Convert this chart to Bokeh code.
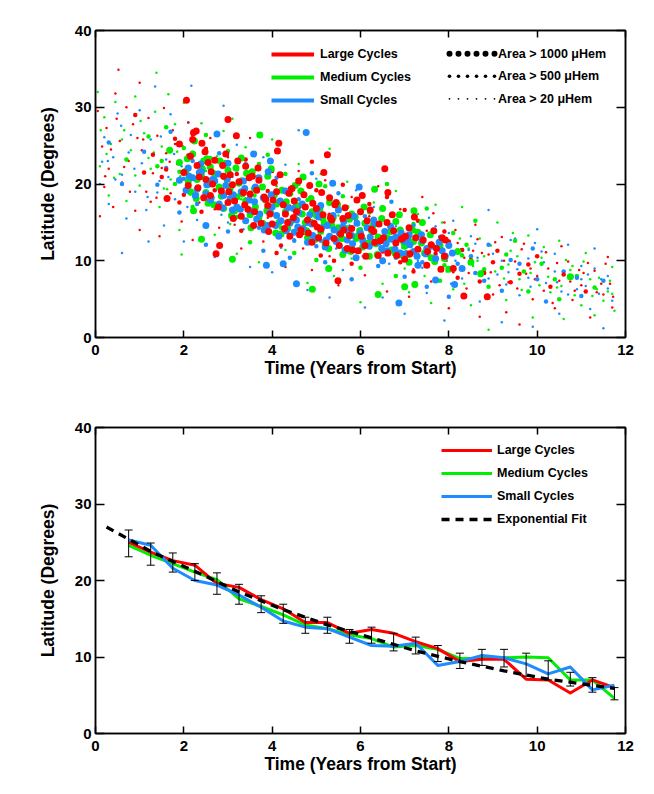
from bokeh.plotting import figure
from bokeh.models import (Range1d, LinearAxis, FixedTicker, Legend, LegendItem,
                          Label, Whisker, TeeHead, ColumnDataSource)
from bokeh.layouts import column
from bokeh.embed import file_html
from bokeh.resources import INLINE

# ------------------------------------------------------------------
# Top panel: individual sunspot groups (time in years, latitude in deg)
# size classes: large = area > 1000 uHem, medium = > 500, small = > 20
# ------------------------------------------------------------------
red_large_t = [2.28, 2.41, 2.2, 3.0, 3.19, 4.15, 4.12, 5.25, 5.17, 6.55, 6.62, 6.04, 1.62, 2.73, 2.81,
               5.49, 8.34, 8.87, 7.82, 7.66, 7.85, 2.0, 2.1, 2.3, 2.5, 2.6, 2.7, 2.9, 3.0, 3.1,
               3.3, 3.4, 3.5, 3.6, 3.7, 3.9, 4.0, 4.1, 4.3, 4.4, 4.5, 4.6, 4.8, 4.9, 5.0,
               5.1, 5.3, 5.4, 5.6, 5.7, 5.8, 6.0, 6.1, 6.3, 6.4, 6.6, 6.8, 7.0, 7.1, 7.3,
               7.5, 7.6, 7.9, 8.1, 2.06, 1.9, 2.22,
               2.15, 2.35, 2.45, 2.55, 2.65, 2.85, 2.95, 3.05, 3.15, 3.25,
               3.35, 3.45, 3.55, 3.65, 3.75, 3.85, 3.95, 4.05, 4.25, 4.35,
               4.45, 4.55, 4.65, 4.75, 4.85, 4.95, 5.05, 5.15, 5.35, 5.45,
               5.55, 5.65, 5.75, 5.95, 6.15, 6.25, 6.45, 6.75, 6.95, 7.25,
               2.32, 2.48, 2.62, 2.78, 2.88, 3.02, 3.12, 3.22, 3.38, 3.48,
               3.58, 3.68, 3.82, 3.92, 4.02, 4.18, 4.28, 4.38, 4.48, 4.62,
               4.72, 4.82, 4.92, 5.02, 5.12, 5.22, 5.32, 5.42, 5.52, 5.62,
               5.72, 5.82, 5.92, 6.02, 6.12, 6.22, 6.32, 6.42, 6.52, 6.62,
               6.72, 6.82, 6.92, 7.02, 7.12, 7.22, 7.42, 7.52, 7.72, 7.92]
red_large_lat = [26.9, 25.3, 25.8, 28.4, 26.3, 25.3, 24.3, 23.8, 21.5, 22.0, 18.9, 18.5, 18.1, 10.9, 12.0,
                 7.4, 5.4, 5.3, 8.9, 13.9, 13.0, 21.5, 19.8, 22.4, 20.6, 18.5, 23.1, 21.0, 17.6, 19.9,
                 15.8, 22.3, 18.7, 16.4, 20.5, 17.2, 14.8, 19.0, 16.1, 13.2, 17.8, 20.4, 15.3, 12.4, 16.8,
                 14.1, 18.2, 12.9, 15.5, 11.6, 14.2, 16.4, 12.0, 13.8, 10.7, 15.0, 12.3, 10.2, 14.3, 11.5,
                 9.4, 12.1, 10.6, 9.0, 30.9, 25.2, 26.7,
                 23.6, 20.9, 18.2, 22.8, 20.0, 19.1, 23.9, 21.2, 17.8, 20.3,
                 18.9, 16.7, 21.0, 19.2, 14.9, 18.0, 16.1, 20.2, 17.3, 15.0,
                 19.4, 16.4, 14.0, 17.0, 19.8, 14.9, 13.0, 16.0, 15.3, 17.6,
                 13.5, 16.9, 13.3, 11.3, 15.2, 14.1, 12.6, 13.9, 12.9, 13.0,
                 19.5, 24.2, 21.6, 17.0, 22.4, 19.0, 15.5, 23.0, 17.3, 20.8,
                 14.6, 22.1, 18.3, 13.8, 17.9, 21.2, 14.2, 18.8, 15.6, 13.4,
                 18.6, 13.6, 17.5, 14.4, 18.9, 12.3, 15.6, 17.3, 12.0, 14.0,
                 15.9, 11.4, 17.9, 13.2, 10.6, 16.6, 12.4, 14.8, 13.0, 11.0,
                 16.0, 10.7, 12.8, 13.2, 10.9, 15.7, 12.7, 11.2, 11.6, 12.7]
red_medium_t = [1.3, 1.5, 1.8, 1.9, 2.1, 2.4, 2.5, 2.7, 2.9, 3.2, 3.3, 3.6, 3.8, 4.0, 4.2, 4.4, 4.7, 4.9, 5.1, 5.3,
                5.6, 5.8, 6.0, 6.2, 6.5, 6.7, 7.0, 7.2, 7.4, 7.7, 8.0, 8.2, 8.5, 8.8, 9.1, 9.4, 9.8, 10.3, 0.9, 1.1,
                1.6, 2.0, 2.2, 2.6, 3.1, 3.4, 3.9, 4.1, 4.6, 5.0, 5.4, 5.9, 6.3, 6.6, 6.9, 7.3, 7.6, 7.9, 8.3, 8.7,
                9.0, 9.6, 10.0, 10.6, 11.1]
red_medium_lat = [23.8, 20.9, 25.9, 17.6, 23.7, 16.4, 24.6, 19.2, 25.0, 21.3, 13.9, 24.0, 15.0, 21.7, 12.0, 19.4, 13.6, 22.9, 10.7, 16.0,
                  19.9, 9.6, 14.0, 17.4, 11.2, 13.7, 16.6, 8.6, 12.9, 10.9, 12.5, 7.8, 10.1, 8.4, 11.3, 7.2, 9.5, 6.6, 29.0, 21.5,
                  21.9, 18.6, 26.5, 21.7, 18.0, 23.2, 19.1, 11.0, 16.9, 19.2, 10.0, 15.3, 12.2, 18.3, 9.8, 15.2, 10.3, 13.8, 11.4, 7.3,
                  9.8, 8.3, 10.6, 8.2, 6.0]
red_small_t = [0.1, 0.15, 0.2, 0.25, 0.3, 0.4, 0.45, 0.52, 0.55, 0.6,
               0.7, 0.75, 0.85, 0.9, 1.0, 1.05, 1.15, 1.2, 1.3, 1.4,
               1.45, 1.55, 1.6, 1.7, 1.75, 1.85, 1.95, 2.1, 2.2, 2.35,
               2.6, 2.8, 3.0, 3.3, 3.5, 3.8, 4.0, 4.3, 4.6, 4.9,
               5.2, 5.5, 5.8, 6.1, 6.4, 6.6, 6.9, 7.1, 7.4, 7.6,
               7.9, 8.0, 8.2, 8.4, 8.6, 8.7, 8.9, 9.0, 9.2, 9.3,
               9.5, 9.6, 9.7, 9.9, 10.0, 10.2, 10.4, 10.5, 10.7, 10.8,
               11.0, 11.2, 11.3, 11.5, 11.6, 11.7, 1.0, 0.05,
               0.35, 0.65, 0.95, 1.25, 1.5, 1.8, 2.05, 2.45, 2.7, 2.95,
               3.15, 3.4, 3.65, 3.9, 4.15, 4.4, 4.7, 4.95, 5.3, 5.6,
               5.9, 6.2, 6.5, 6.8, 7.2, 7.5, 7.8, 8.1, 8.35, 8.65,
               8.95, 9.25, 9.55, 9.85, 10.15, 10.45, 10.75, 11.05, 11.35, 11.65,
               0.22, 0.48, 0.78, 1.08, 1.38, 1.68, 1.98, 7.05, 7.35, 7.65,
               7.95, 8.15, 8.45, 8.75, 9.05, 9.35, 9.65, 9.95, 10.25, 10.55,
               10.85, 11.15, 11.45, 11.72, 8.55, 9.15, 9.75, 10.35, 10.95, 11.55]
red_small_lat = [15.8, 24.9, 19.6, 27.3, 22.0, 17.0, 31.8, 34.9, 25.6, 20.2,
                 30.0, 23.0, 27.8, 16.5, 33.2, 24.4, 19.0, 28.6, 21.4, 26.3,
                 13.2, 29.9, 24.0, 18.8, 27.0, 22.6, 15.1, 28.0, 12.7, 17.6,
                 26.0, 14.3, 23.5, 11.6, 26.0, 12.5, 23.0, 9.2, 21.7, 8.8,
                 20.5, 6.8, 18.3, 8.1, 19.7, 6.0, 16.7, 5.3, 18.3, 7.3,
                 15.0, 3.8, 12.3, 6.4, 14.7, 2.7, 10.8, 5.6, 13.1, 3.3,
                 9.9, 1.7, 12.2, 5.0, 8.0, 11.1, 3.8, 7.4, 9.9, 4.9,
                 6.8, 2.6, 8.7, 5.6, 10.5, 3.9, 14.0, 29.5,
                 24.5, 22.2, 26.0, 17.7, 22.1, 25.2, 19.2, 23.0, 16.7, 20.2,
                 14.7, 18.1, 21.0, 15.6, 13.4, 17.2, 11.6, 15.9, 10.6, 13.8,
                 11.1, 15.8, 9.7, 12.8, 8.9, 13.9, 11.5, 8.5, 10.4, 12.8,
                 8.5, 10.0, 6.4, 9.0, 6.1, 9.7, 7.3, 8.4, 5.9, 7.0,
                 21.0, 28.5, 19.0, 25.8, 18.2, 22.9, 24.9, 11.2, 9.4, 16.2,
                 10.0, 14.0, 8.4, 11.0, 12.4, 7.2, 11.5, 7.6, 9.0, 11.9,
                 6.1, 9.7, 7.0, 5.3, 11.3, 6.8, 8.3, 4.5, 8.8, 9.6]

green_large_t = [3.72, 5.06, 6.32, 7.21, 5.28, 7.0, 8.72, 10.75, 4.91, 7.23, 6.4,
                 1.9, 2.1, 2.2, 2.4, 2.5, 2.6, 2.8, 2.9, 3.0,
                 3.2, 3.3, 3.5, 3.6, 3.8, 3.9, 4.1, 4.2, 4.4, 4.5,
                 4.7, 4.8, 5.0, 5.2, 5.3, 5.5, 5.6, 5.8, 5.9, 6.1,
                 6.2, 6.4, 6.5, 6.7, 6.9, 7.1, 7.2, 7.4, 7.6, 7.8,
                 8.0, 8.2, 8.5, 3.1, 2.4, 2.52, 2.24, 2.22, 1.68,
                 2.05, 2.15, 2.3, 2.45, 2.55, 2.7, 2.85, 2.95, 3.05, 3.15,
                 3.25, 3.4, 3.55, 3.7, 3.85, 3.95, 4.05, 4.15, 4.3, 4.35,
                 4.55, 4.65, 4.75, 4.9, 5.1, 5.15, 5.35, 5.45, 5.65, 5.75,
                 5.95, 6.05, 6.25, 6.35, 6.6, 6.8, 7.0, 7.3, 7.45, 7.9,
                 2.08, 2.28, 2.42, 2.58, 2.68, 2.82, 2.98, 3.08, 3.18, 3.32,
                 3.42, 3.52, 3.62, 3.78, 3.88, 3.98, 4.08, 4.22, 4.32, 4.42,
                 4.52, 4.68, 4.78, 4.88, 4.98, 5.08, 5.18, 5.28, 5.38, 5.48,
                 5.58, 5.68, 5.78, 5.88, 5.98, 6.08, 6.18, 6.28, 6.38, 6.48,
                 6.58, 6.68, 6.78, 6.88, 6.98, 7.08, 7.18, 7.38, 7.58, 7.68]
green_large_lat = [26.4, 20.0, 19.3, 16.5, 9.0, 6.6, 8.3, 7.9, 6.3, 6.9, 5.6,
                   22.8, 20.3, 23.9, 21.0, 18.9, 22.2, 19.6, 16.8, 21.8,
                   18.3, 23.4, 16.0, 19.4, 14.8, 21.0, 17.4, 13.5, 18.8, 15.6,
                   20.9, 13.0, 15.9, 12.2, 17.6, 14.3, 10.8, 16.1, 12.9, 14.9,
                   10.6, 13.1, 16.8, 11.4, 14.0, 9.8, 12.5, 15.0, 10.4, 12.0,
                   8.9, 11.2, 9.8, 10.2, 12.8, 23.3, 25.6, 16.5, 24.4,
                   21.7, 19.0, 20.6, 23.0, 17.5, 21.3, 18.4, 22.7, 19.4, 16.5,
                   20.1, 17.8, 21.6, 15.6, 17.9, 16.2, 18.6, 15.0, 16.4, 14.2,
                   17.2, 19.1, 15.0, 16.4, 13.8, 15.5, 14.6, 12.7, 14.0, 15.4,
                   13.3, 11.8, 13.9, 12.2, 13.0, 15.1, 11.9, 13.7, 11.0, 10.3,
                   23.3, 18.1, 22.0, 20.0, 17.3, 23.0, 20.6, 15.9, 22.1, 18.7,
                   21.4, 14.3, 17.0, 19.6, 16.5, 22.0, 13.6, 19.2, 17.7, 15.1,
                   19.8, 16.1, 13.9, 18.1, 12.8, 16.6, 14.9, 11.6, 15.6, 17.3,
                   12.9, 14.2, 11.2, 15.7, 13.9, 17.0, 12.3, 14.6, 10.8, 15.5,
                   12.6, 13.8, 11.0, 16.0, 12.4, 10.8, 14.0, 12.3, 13.4, 9.9]
green_medium_t = [1.2, 1.4, 1.6, 1.8, 2.0, 2.3, 2.5, 2.8, 3.0, 3.3, 3.5, 3.7, 4.0, 4.3, 4.5, 4.8, 5.0, 5.2, 5.5, 5.7,
                  6.0, 6.3, 6.6, 6.8, 7.0, 7.3, 7.5, 7.8, 8.1, 8.3, 8.6, 8.9, 9.2, 9.5, 9.8, 10.1, 10.5, 10.9, 11.3, 0.7,
                  1.5, 1.9, 2.2, 2.6, 2.9, 3.2, 3.6, 3.9, 4.2, 4.6, 4.9, 5.3, 5.6, 5.9, 6.2, 6.5, 6.9, 7.2, 7.6, 7.9,
                  8.4, 8.8, 9.3, 9.7, 10.4]
green_medium_lat = [26.2, 22.3, 27.4, 20.0, 24.7, 18.6, 26.4, 17.2, 24.3, 20.6, 12.4, 22.6, 16.3, 21.3, 11.0, 17.9, 10.1, 19.7, 12.0, 17.0,
                    9.1, 14.7, 20.0, 8.0, 13.3, 10.6, 16.8, 7.4, 13.6, 10.7, 15.2, 6.6, 9.1, 12.6, 6.0, 9.6, 5.0, 8.0, 6.5, 23.2,
                    23.0, 21.6, 17.0, 23.4, 20.8, 15.7, 18.5, 23.8, 14.3, 20.0, 12.5, 15.1, 18.4, 11.4, 16.3, 12.6, 10.6, 14.8, 12.2, 9.4,
                    12.1, 8.9, 10.8, 8.6, 7.6]
green_small_t = [0.05, 0.1, 0.2, 0.3, 0.35, 0.45, 0.55, 0.65, 0.7, 0.8,
                 0.9, 1.0, 1.1, 1.38, 1.25, 1.35, 1.45, 1.5, 1.65, 1.7,
                 1.8, 1.9, 2.0, 2.2, 2.4, 2.7, 2.9, 3.2, 3.4, 3.7,
                 4.0, 4.3, 4.6, 4.8, 5.1, 5.4, 5.7, 6.0, 6.3, 6.5,
                 6.8, 7.1, 7.3, 7.6, 7.9, 8.1, 8.3, 8.5, 8.7, 8.9,
                 9.1, 9.3, 9.4, 9.6, 9.8, 9.9, 10.1, 10.3, 10.5, 10.6,
                 10.8, 11.0, 11.1, 11.3, 11.4, 11.6, 11.7, 11.75, 1.95, 3.1,
                 5.3, 7.7,
                 0.25, 0.6, 0.9, 1.2, 1.55, 1.85, 2.15, 2.5, 2.75, 3.05,
                 3.3, 3.55, 3.85, 4.1, 4.4, 4.65, 4.9, 5.2, 5.5, 5.8,
                 6.1, 6.4, 6.7, 7.0, 7.35, 7.65, 7.95, 8.25, 8.55, 8.8,
                 9.05, 9.35, 9.65, 9.95, 10.25, 10.55, 10.85, 11.2, 11.5, 11.7,
                 0.12, 0.42, 0.72, 1.02, 1.32, 1.62, 1.92, 7.15, 7.45, 7.75,
                 8.05, 8.35, 8.65, 8.95, 9.25, 9.55, 9.85, 10.15, 10.45, 10.75,
                 11.05, 11.35, 11.65, 7.25, 7.85, 8.45, 9.45, 10.05, 10.65, 11.25]
green_small_lat = [32.0, 22.3, 28.7, 18.5, 25.2, 30.7, 21.3, 27.0, 17.8, 24.4,
                   31.4, 19.8, 26.6, 34.5, 22.0, 29.4, 17.0, 24.9, 31.7, 20.6,
                   27.8, 14.0, 30.6, 16.5, 27.9, 13.4, 26.9, 10.9, 24.8, 9.8,
                   25.8, 11.4, 22.6, 7.1, 21.3, 8.0, 20.3, 4.6, 17.6, 7.0,
                   19.1, 5.9, 16.1, 4.5, 13.9, 6.3, 17.0, 4.2, 12.9, 1.0,
                   15.0, 4.9, 11.3, 7.6, 13.3, 2.6, 10.4, 5.9, 12.6, 2.4,
                   9.3, 4.2, 11.0, 2.9, 7.8, 6.0, 9.2, 3.5, 10.8, 28.5,
                   24.6, 17.3,
                   23.9, 25.8, 21.1, 23.4, 19.4, 24.2, 18.6, 21.7, 23.6, 14.8,
                   18.0, 21.5, 16.9, 19.7, 14.1, 17.0, 15.3, 12.9, 15.9, 10.3,
                   12.9, 11.0, 14.3, 9.0, 12.7, 10.0, 8.6, 12.9, 9.3, 10.6,
                   8.6, 9.5, 6.2, 9.8, 7.9, 6.7, 5.5, 7.6, 4.8, 5.7,
                   27.0, 20.8, 23.2, 28.2, 24.1, 19.3, 21.0, 13.2, 8.0, 12.4,
                   10.8, 7.0, 10.0, 12.0, 7.7, 10.6, 8.4, 11.8, 6.5, 8.8,
                   9.9, 6.3, 7.4, 7.2, 15.0, 11.6, 13.6, 6.8, 10.1, 5.4]

blue_large_t = [4.77, 2.75, 3.58, 3.96, 3.91, 4.25, 4.55, 3.87, 5.37, 5.97, 6.87, 7.7, 8.13,
                1.9, 2.1, 2.3, 2.4, 2.6, 2.7, 2.9, 3.0, 3.1, 3.3,
                3.4, 3.6, 3.7, 3.9, 4.0, 4.2, 4.3, 4.5, 4.6, 4.8,
                4.9, 5.1, 5.2, 5.4, 5.5, 5.7, 5.9, 6.0, 6.2, 6.3,
                6.5, 6.7, 6.9, 7.1, 7.3, 7.5, 7.7, 8.0, 8.3, 2.5,
                2.05, 2.2, 2.35, 2.5, 2.65, 2.8, 2.95, 3.05, 3.2, 3.35,
                3.5, 3.65, 3.8, 3.95, 4.1, 4.15, 4.35, 4.4, 4.55, 4.7,
                4.85, 5.0, 5.05, 5.25, 5.3, 5.45, 5.6, 5.65, 5.8, 5.85,
                6.05, 6.15, 6.4, 6.55, 6.6, 6.8, 7.0, 7.2, 7.4, 7.85,
                2.12, 2.26, 2.38, 2.52, 2.62, 2.78, 2.88, 2.98, 3.12, 3.28,
                3.38, 3.48, 3.62, 3.72, 3.82, 3.98, 4.08, 4.18, 4.32, 4.48,
                4.58, 4.68, 4.82, 4.92, 5.02, 5.12, 5.22, 5.38, 5.52, 5.62,
                5.72, 5.82, 5.92, 6.08, 6.22, 6.32, 6.48, 6.58, 6.68, 6.78,
                6.92, 7.02, 7.12, 7.28, 7.38, 7.48, 7.62, 7.78, 7.92, 8.08]
blue_large_lat = [26.7, 26.5, 23.9, 23.0, 21.6, 9.6, 7.0, 9.4, 20.1, 19.6, 4.5, 7.5, 6.9,
                  20.5, 22.1, 19.3, 21.6, 17.9, 20.4, 18.5, 22.7, 16.6, 19.0,
                  15.2, 17.7, 20.8, 14.6, 17.0, 15.2, 19.1, 13.7, 16.3, 12.4,
                  14.8, 17.2, 11.8, 14.0, 16.6, 12.7, 10.4, 13.6, 11.9, 15.3,
                  10.0, 12.8, 11.0, 13.4, 9.4, 11.6, 10.3, 12.0, 9.0, 14.6,
                  19.2, 20.8, 21.5, 18.7, 20.6, 17.4, 19.8, 18.1, 17.0, 20.4,
                  16.5, 15.4, 18.2, 16.3, 15.9, 13.2, 16.9, 14.9, 15.3, 14.2,
                  16.0, 13.0, 15.7, 14.6, 13.2, 12.5, 14.4, 11.4, 13.3, 15.8,
                  12.6, 14.3, 12.4, 13.8, 11.3, 13.1, 12.5, 11.2, 12.6, 11.3,
                  21.0, 18.5, 22.6, 19.9, 18.2, 21.3, 16.9, 20.7, 18.6, 16.7,
                  19.4, 17.9, 19.6, 16.1, 14.0, 18.6, 14.6, 17.8, 13.9, 16.8,
                  14.4, 17.4, 15.0, 13.3, 16.5, 14.3, 12.7, 15.9, 13.6, 15.1,
                  13.9, 12.2, 14.9, 12.0, 13.1, 14.9, 11.6, 12.2, 14.5, 11.5,
                  13.6, 10.9, 12.1, 10.6, 13.4, 10.9, 11.9, 12.4, 10.6, 11.0]
blue_medium_t = [1.1, 1.4, 1.7, 1.9, 2.2, 2.5, 2.8, 3.0, 3.2, 3.5, 3.8, 4.1, 4.4, 4.6, 4.9, 5.2, 5.5, 5.8, 6.1, 6.4,
                 6.7, 7.0, 7.2, 7.5, 7.8, 8.0, 8.3, 8.6, 8.9, 9.2, 9.6, 9.9, 10.2, 10.6, 11.0, 11.5, 0.6, 0.3, 5.0, 6.6,
                 1.6, 2.0, 2.3, 2.7, 3.1, 3.4, 3.7, 4.2, 4.5, 4.8, 5.1, 5.4, 5.7, 6.0, 6.3, 6.8, 7.1, 7.4, 7.7, 8.2,
                 8.5, 8.8, 9.4, 10.0, 10.9]
blue_medium_lat = [24.2, 19.9, 26.8, 16.3, 23.0, 12.1, 24.0, 13.8, 21.9, 18.2, 11.3, 20.8, 10.4, 18.0, 21.4, 9.8, 18.8, 7.6, 15.8, 9.3,
                   17.7, 7.9, 14.6, 6.6, 13.1, 5.3, 11.4, 8.4, 12.1, 6.1, 9.6, 11.6, 4.7, 8.6, 5.4, 7.4, 20.0, 25.4, 11.9, 11.3,
                   22.1, 20.7, 17.4, 20.8, 16.0, 22.6, 14.3, 17.6, 12.6, 15.4, 12.6, 15.6, 11.2, 14.1, 12.2, 10.4, 12.8, 9.8, 11.8, 9.6,
                   10.6, 7.4, 10.1, 7.6, 7.8]
blue_small_t = [0.1, 0.2, 0.3, 0.4, 0.5, 0.6, 0.7, 0.8, 0.9, 1.0,
                1.05, 1.15, 1.25, 1.35, 1.45, 1.55, 1.6, 1.7, 1.8, 1.9,
                2.0, 2.1, 2.3, 2.17, 2.7, 3.0, 3.2, 3.5, 3.8, 4.0,
                4.3, 4.5, 4.8, 5.0, 5.3, 5.6, 5.9, 6.1, 6.3, 6.5,
                6.8, 7.0, 7.2, 7.5, 7.7, 7.9, 8.1, 8.3, 8.5, 8.7,
                8.9, 9.1, 9.2, 9.4, 9.6, 9.8, 9.9, 10.0, 10.2, 10.4,
                10.5, 10.7, 10.9, 11.0, 11.2, 11.3, 11.4, 11.5, 11.6, 11.7,
                1.2, 2.9, 0.6, 4.6,
                0.15, 0.45, 0.75, 1.1, 1.4, 1.65, 1.95, 2.25, 2.55, 2.85,
                3.1, 3.35, 3.6, 3.9, 4.2, 4.45, 4.7, 4.95, 5.2, 5.45,
                5.75, 6.05, 6.35, 6.65, 6.95, 7.3, 7.6, 7.85, 8.15, 8.45,
                8.75, 9.0, 9.3, 9.55, 9.85, 10.15, 10.45, 10.8, 11.1, 11.45,
                0.28, 0.58, 0.88, 1.18, 1.48, 1.78, 2.08, 7.1, 7.4, 7.7,
                8.0, 8.3, 8.6, 8.9, 9.2, 9.5, 9.8, 10.1, 10.4, 10.7,
                11.0, 11.3, 11.6, 7.55, 8.05, 8.65, 9.35, 9.95, 10.55, 11.15]
blue_small_lat = [20.0, 26.1, 17.4, 23.5, 29.2, 21.2, 15.5, 26.4, 19.0, 29.6,
                  22.7, 16.6, 25.8, 32.7, 20.4, 14.6, 23.2, 29.1, 18.0, 25.1,
                  12.5, 28.0, 15.3, 32.8, 10.5, 15.0, 25.1, 9.2, 23.5, 8.5,
                  22.5, 12.8, 6.2, 20.7, 5.2, 8.8, 19.2, 3.9, 17.0, 5.2,
                  14.5, 3.1, 16.7, 5.8, 14.5, 2.2, 15.2, 7.7, 13.2, 4.7,
                  16.6, 8.2, 2.0, 12.7, 5.5, 10.3, 1.4, 14.1, 7.1, 10.9,
                  3.1, 12.1, 6.3, 9.3, 3.7, 11.6, 5.7, 1.2, 8.0, 4.8,
                  12.5, 30.2, 11.0, 27.0,
                  22.9, 20.6, 24.1, 21.4, 18.9, 20.9, 22.3, 18.0, 19.6, 16.0,
                  20.9, 14.1, 17.4, 18.2, 11.7, 15.0, 16.9, 12.2, 14.4, 11.6,
                  14.6, 10.6, 13.1, 9.6, 11.7, 10.0, 12.0, 9.0, 10.0, 11.4,
                  8.6, 10.9, 6.9, 8.9, 6.6, 9.8, 7.2, 7.9, 6.7, 7.6,
                  23.0, 27.6, 22.0, 18.3, 26.2, 23.9, 17.0, 12.6, 9.1, 11.2,
                  13.6, 10.8, 12.2, 7.7, 10.0, 12.9, 7.8, 11.2, 8.6, 5.6,
                  7.6, 9.0, 6.4, 15.6, 7.0, 10.4, 8.5, 12.3, 6.0, 8.2]

area_classes = ["Area > 1000 \u03bcHem", "Area > 500 \u03bcHem", "Area > 20 \u03bcHem"]
cycle_names = ["Large Cycles", "Medium Cycles", "Small Cycles"]

# ------------------------------------------------------------------
# Bottom panel: half-year bin means
# ------------------------------------------------------------------
bin_t = [0.75, 1.25, 1.75, 2.25, 2.75, 3.25, 3.75, 4.25, 4.75, 5.25, 5.75, 6.25,
         6.75, 7.25, 7.75, 8.25, 8.75, 9.25, 9.75, 10.25, 10.75, 11.25, 11.75]
large_mean = [25.0, 23.7, 22.6, 22.0, 19.6, 19.1, 17.5, 16.3, 14.5, 14.5, 13.1, 13.6,
              13.1, 12.0, 11.1, 9.4, 9.7, 9.7, 7.1, 7.0, 5.3, 7.0, 6.0]
medium_mean = [24.6, 23.3, 22.2, 21.1, 20.1, 17.6, 16.6, 15.5, 14.2, 13.7, 12.9, 12.4,
               11.3, 11.5, 11.0, 9.8, 9.8, 9.9, 10.0, 9.9, 7.0, 7.0, 4.6]
small_mean = [25.3, 24.6, 21.6, 20.0, 19.4, 18.1, 16.5, 14.7, 13.9, 13.7, 12.6, 11.5,
              11.4, 11.8, 8.9, 9.4, 10.2, 9.9, 9.1, 7.8, 8.7, 5.7, 6.3]
err_upper = [26.6, 24.9, 23.6, 22.2, 21.0, 19.5, 18.0, 16.9, 15.2, 15.2, 13.6, 13.9,
             13.1, 12.6, 11.5, 10.5, 11.0, 11.0, 10.5, 9.5, 8.0, 7.3, 6.0]
err_lower = [23.1, 22.0, 21.1, 20.0, 18.2, 16.9, 15.8, 14.4, 13.1, 13.1, 11.8, 11.8,
             10.8, 10.4, 9.4, 8.5, 8.9, 8.7, 7.5, 7.0, 6.2, 5.4, 4.4]
fit_t = [0.25, 1.25, 2.25, 3.25, 4.25, 5.25, 6.25, 7.25, 8.25, 9.25, 10.25, 11.25, 11.75]
fit_lat = [27.0, 23.8, 21.2, 18.5, 16.2, 14.2, 12.5, 10.8, 9.4, 8.2, 7.1, 6.3, 5.9]

x_ticks = [0, 2, 4, 6, 8, 10, 12]
y_ticks = [0, 10, 20, 30, 40]

# ------------------------------------------------------------------
FONT = "Liberation Sans"
RED, GREEN, BLUE = "#FF0000", "#00EE00", "#1E8CFF"
FRAME_LEFT, FRAME_W = 95.0, 530.0


def make_fig(height, top, bottom):
    p = figure(width=646, height=height, x_range=Range1d(0, 12), y_range=Range1d(0, 40),
               output_backend="svg", toolbar_location=None,
               min_border_left=95, min_border_right=21,
               min_border_top=top, min_border_bottom=bottom)
    p.xgrid.visible = False
    p.ygrid.visible = False
    p.outline_line_color = "black"
    p.outline_line_width = 1.5
    p.background_fill_color = "white"
    p.border_fill_color = "white"
    p.add_layout(LinearAxis(), "above")
    p.add_layout(LinearAxis(), "right")
    for ax in p.xaxis:
        ax.ticker = FixedTicker(ticks=x_ticks)
        ax.major_tick_in = 7
    for ax in p.yaxis:
        ax.ticker = FixedTicker(ticks=y_ticks)
        ax.major_tick_in = 9
    for ax in list(p.xaxis) + list(p.yaxis):
        ax.major_tick_out = 0
        ax.minor_tick_line_color = None
        ax.axis_line_width = 1.5
        ax.axis_line_color = "black"
        ax.major_tick_line_width = 1.5
        ax.major_tick_line_color = "black"
        ax.major_label_text_font = FONT
        ax.major_label_text_font_style = "bold"
        ax.major_label_text_font_size = "15px"
        ax.major_label_text_color = "black"
        ax.axis_label_text_font = FONT
        ax.axis_label_text_font_style = "bold"
        ax.axis_label_text_font_size = "17.5px"
        ax.axis_label_text_color = "black"
    p.above[0].major_label_overrides = {t: "" for t in x_ticks}
    p.above[0].major_label_standoff = 0
    p.right[0].major_label_overrides = {t: "" for t in y_ticks}
    p.right[0].major_label_standoff = 0
    xb = p.below[0]
    xb.axis_label = "Time (Years from Start)"
    xb.major_label_standoff = 7
    xb.axis_label_standoff = 0
    yl = p.left[0]
    yl.axis_label = "Latitude (Degrees)"
    yl.major_label_standoff = 4
    yl.axis_label_standoff = 14
    return p


def px_to_t(px):
    return (px - FRAME_LEFT) * 12.0 / FRAME_W


def py_to_lat(py, frame_top, frame_h):
    return 40.0 - (py - frame_top) * 40.0 / frame_h


def styled_legend(items, loc, glyph_w, standoff):
    return Legend(items=items, location=loc, orientation="vertical",
                  glyph_width=glyph_w, glyph_height=20, label_height=20, spacing=3,
                  label_standoff=standoff, padding=0, margin=0,
                  border_line_color=None, background_fill_alpha=0,
                  label_text_font=FONT, label_text_font_style="bold",
                  label_text_font_size="12.5px", label_text_color="black")


# ---------------- top panel ----------------
p1 = make_fig(397, 30, 60)
SIZE_L, SIZE_M, SIZE_S = 7, 4.5, 2.5
scatter_layers = [
    (GREEN, green_small_t, green_small_lat, SIZE_S),
    (BLUE, blue_small_t, blue_small_lat, SIZE_S),
    (RED, red_small_t, red_small_lat, SIZE_S),
    (GREEN, green_medium_t, green_medium_lat, SIZE_M),
    (BLUE, blue_medium_t, blue_medium_lat, SIZE_M),
    (RED, red_medium_t, red_medium_lat, SIZE_M),
    (GREEN, green_large_t, green_large_lat, SIZE_L),
    (BLUE, blue_large_t, blue_large_lat, SIZE_L),
    (RED, red_large_t, red_large_lat, SIZE_L),
]
for color, ts, lats, sz in scatter_layers:
    assert len(ts) == len(lats)
    p1.scatter(x=ts, y=lats, size=sz, fill_color=color, line_color=None)

nan = float("nan")
leg_lines = [p1.line(x=[nan], y=[nan], line_color=c, line_width=4) for c in (RED, GREEN, BLUE)]
leg1 = styled_legend([LegendItem(label=n, renderers=[r]) for n, r in zip(cycle_names, leg_lines)],
                     (176, 227), 43, 6)
p1.add_layout(leg1)

row_py = [53.3, 75.7, 98.3]
dot_px = [449 + 9 * i for i in range(6)]
dot_sizes = [6, 3.6, 1.8]
for py, sz, txt in zip(row_py, dot_sizes, area_classes):
    lat = py_to_lat(py, 30.0, 307.0)
    p1.scatter(x=[px_to_t(x) for x in dot_px], y=[lat] * len(dot_px), size=sz,
               fill_color="black", line_color=None)
    p1.add_layout(Label(x=px_to_t(497.5), y=lat, text=txt, text_font=FONT,
                        text_font_style="bold", text_font_size="12.5px",
                        text_baseline="middle", text_align="left", text_color="black"))

# ---------------- bottom panel ----------------
p2 = make_fig(386, 30, 50)
r_green = p2.line(bin_t, medium_mean, line_color=GREEN, line_width=3, line_join="round")
r_red = p2.line(bin_t, large_mean, line_color=RED, line_width=3, line_join="round")
r_blue = p2.line(bin_t, small_mean, line_color=BLUE, line_width=3, line_join="round")
r_fit = p2.line(fit_t, fit_lat, line_color="black", line_width=3.3, line_dash="8 6")

err_src = ColumnDataSource(dict(t=bin_t, up=err_upper, lo=err_lower))
wh = Whisker(source=err_src, base="t", upper="up", lower="lo", line_color="black",
             line_width=1, level="overlay",
             upper_head=TeeHead(size=8, line_color="black", line_width=1),
             lower_head=TeeHead(size=8, line_color="black", line_width=1))
p2.add_layout(wh)

leg2 = styled_legend([LegendItem(label=cycle_names[0], renderers=[r_red]),
                      LegendItem(label=cycle_names[1], renderers=[r_green]),
                      LegendItem(label=cycle_names[2], renderers=[r_blue]),
                      LegendItem(label="Exponential Fit", renderers=[r_fit])],
                     (346, 204), 51, 5)
p2.add_layout(leg2)

layout = column(p1, p2, spacing=0)
open("out.html", "w").write(file_html(layout, INLINE))
